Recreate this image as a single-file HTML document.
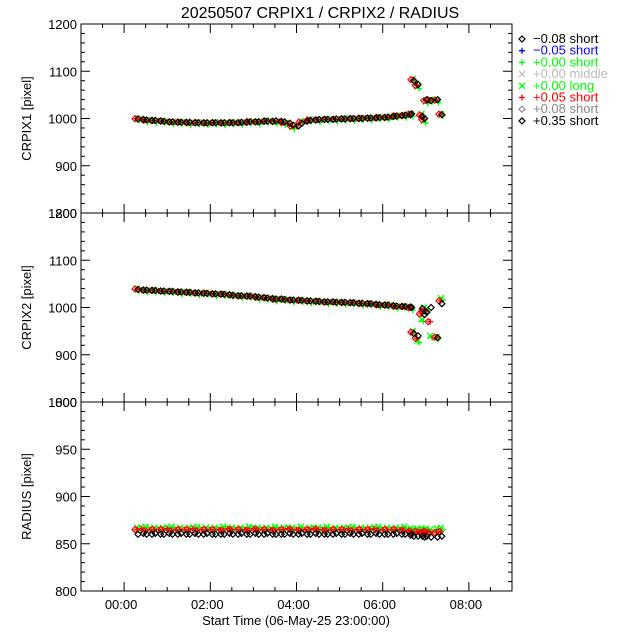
<!DOCTYPE html>
<html><head><meta charset="utf-8"><style>
body{margin:0;background:#fff}
svg{display:block;font-family:"Liberation Sans",sans-serif}
</style></head><body>
<svg id="c" width="640" height="640"></svg>
<script>
const times=[0.3,0.5,0.7,0.9,1.1,1.3,1.5,1.7,1.9,2.1,2.3,2.5,2.7,2.9,3.1,3.3,3.5,3.7,3.9,4.1,4.3,4.5,4.7,4.9,5.1,5.3,5.5,5.7,5.9,6.1,6.3,6.5,6.65,6.7,6.8,6.9,6.95,7.0,7.1,7.25,7.35];
const crpix1=[999,997,996,994,993,992,992,991,991,991,991,991,992,993,993,994,995,993,986,990,996,998,998,999,999,1000,1000,1001,1002,1003,1005,1007,1010,1080,1072,1004,1000,1040,1038,1040,1008];
const crpix1g=[1000,996,995,995,992,993,990,992,990,992,990,992,991,994,992,996,993,990,982,994,998,996,999,998,1000,999,1001,1000,1003,1002,1006,1006,1009,1084,1068,1010,995,1036,1040,1038,1010];
const crpix2=[1038,1037,1036,1035,1034,1033,1032,1031,1030,1029,1028,1026,1025,1024,1022,1020,1018,1017,1016,1015,1014,1013,1012,1011,1011,1010,1009,1008,1006,1005,1003,1002,1000,945,940,998,985,990,1000,936,1008];
const crpix2g=[1040,1036,1037,1034,1035,1032,1033,1030,1031,1028,1029,1027,1024,1025,1021,1021,1017,1018,1015,1016,1013,1014,1011,1012,1010,1011,1008,1009,1005,1006,1002,1003,999,950,930,975,1000,995,940,938,1020];
const radius=[860,860,861,860,860,861,860,860,861,860,860,860,861,860,860,861,860,860,860,861,860,860,860,861,860,860,861,860,860,860,861,860,860,858,858,858,857,858,857,857,858];
const radiusR=[865,864,865,865,864,865,865,864,865,865,864,865,865,864,865,865,864,865,865,864,865,865,864,865,865,864,865,865,864,865,865,864,863,862,863,862,862,863,862,862,863];
const radiusG=[867,868,867,867,868,867,867,868,867,867,868,867,867,868,867,867,868,867,867,868,867,867,868,867,867,868,867,867,868,867,867,868,866,865,866,866,865,866,865,866,867];
const times2=[0.4,0.6,0.8,1.0,1.2,1.4,1.6,1.8,2.0,2.2,2.4,2.6,2.8,3.0,3.2,3.4,3.6,3.8,4.0,4.2,4.4,4.6,4.8,5.0,5.2,5.4,5.6,5.8,6.0,6.2,6.4,6.6];
const crpix1b=[998,996,995,993,992,992,991,991,991,991,991,991,992,993,994,994,994,990,984,994,997,998,998,999,1000,1000,1001,1001,1002,1004,1006,1008];
const crpix2b=[1037,1036,1035,1034,1033,1032,1031,1030,1029,1028,1027,1025,1024,1023,1021,1019,1018,1016,1015,1014,1013,1012,1012,1011,1010,1009,1008,1007,1005,1004,1002,1001];
const radiusb=[861,860,860,861,860,860,861,860,860,860,861,860,860,861,860,860,860,861,860,860,861,860,860,860,861,860,860,861,860,860,860,859];
const legendLabels=["\u22120.08 short","\u22120.05 short","+0.00 short","+0.00 middle","+0.00 long","+0.05 short","+0.08 short","+0.35 short"];
const legendColors=["#000","#00f","#0f0","#bbb","#0f0","#f00","#888","#000"];
const legendSyms=["d","+","+","x","x","+","d","d"];
const xTicks=["00:00","02:00","04:00","06:00","08:00"];
const NS="http://www.w3.org/2000/svg",svg=document.getElementById('c');
function el(t,a,p){const e=document.createElementNS(NS,t);for(const k in a)e.setAttribute(k,a[k]);(p||svg).appendChild(e);return e;}
const X0=81,X1=512;const xs=t=>X0+(t+1)/10*(X1-X0);
const panels=[{top:24,bot:213,min:800,max:1200,maj:100,mn:20,lab:"CRPIX1 [pixel]",name:"crpix1"},
{top:213,bot:402,min:800,max:1200,maj:100,mn:20,lab:"CRPIX2 [pixel]",name:"crpix2"},
{top:402,bot:591,min:800,max:1000,maj:50,mn:10,lab:"RADIUS [pixel]",name:"radius"}];
const t=el('text',{x:320,y:18,'text-anchor':'middle','font-size':16});t.textContent="20250507 CRPIX1 / CRPIX2 / RADIUS";

function mark(sym,x,y,c,g){
 if(sym==='d')el('path',{d:`M${x-3} ${y}L${x} ${y-3}L${x+3} ${y}L${x} ${y+3}Z`,fill:'none',stroke:c,'stroke-width':1.2},g);
 else if(sym==='+')el('path',{d:`M${x-3} ${y}H${x+3}M${x} ${y-3}V${y+3}`,stroke:c,'stroke-width':1.3},g);
 else el('path',{d:`M${x-3} ${y-3}L${x+3} ${y+3}M${x-3} ${y+3}L${x+3} ${y-3}`,stroke:c,'stroke-width':1.3},g);
}
panels.forEach((p,pi)=>{
 const ys=v=>p.bot-(v-p.min)/(p.max-p.min)*(p.bot-p.top);
 const g=el('g',{});
 el('rect',{x:X0,y:p.top,width:X1-X0,height:p.bot-p.top,fill:'none',stroke:'#000'},g);
 for(let v=p.min;v<=p.max;v+=p.mn){const y=ys(v);const L=(v-p.min)%p.maj===0?9:4;
  el('line',{x1:X0,x2:X0+L,y1:y,y2:y,stroke:'#000'},g);el('line',{x1:X1,x2:X1-L,y1:y,y2:y,stroke:'#000'},g);
  if(L===9){const tx=el('text',{x:X0-4,y:y+5,'text-anchor':'end','font-size':13},g);tx.textContent=v;}}
 for(let h=-1;h<=9;h+=0.5){const x=xs(h);const L=(Math.abs(h%2)===0)?9:4;
  el('line',{x1:x,x2:x,y1:p.bot,y2:p.bot-L,stroke:'#000'},g);el('line',{x1:x,x2:x,y1:p.top,y2:p.top+L,stroke:'#000'},g);}
 const yl=el('text',{x:0,y:0,'text-anchor':'middle','font-size':13,transform:`translate(31,${(p.top+p.bot)/2}) rotate(-90)`},g);yl.textContent=p.lab;
 
 let a,b,c,d;
 if(pi===0){a=crpix1;b=crpix1g;c=crpix1.map((v,i)=>(v+crpix1g[i])/2);d=crpix1b;}
 else if(pi===1){a=crpix2;b=crpix2g;c=crpix2.map((v,i)=>(v+crpix2g[i])/2);d=crpix2b;}
 else{a=radius;b=radiusG;c=radiusR;d=radiusb;}
 times.forEach((tm,i)=>{const x=xs(tm);
  mark('x',x,ys(b[i]),'#0f0',g);mark('+',x+2,ys(b[i])+2,'#0f0',g);});
 times2.forEach((tm,i)=>{const x=xs(tm);const off=pi===2?6:0;
  mark('x',x,ys(d[i]+off),'#0f0',g);});
 times.forEach((tm,i)=>{const x=xs(tm);
  mark('+',x,ys(c[i]),'#f00',g);mark('d',x-2,ys(c[i]),'#f00',g);});
 times2.forEach((tm,i)=>{const x=xs(tm);const off=pi===2?5:0;
  mark('+',x,ys(d[i]+off),'#f00',g);mark('d',x+2,ys(d[i]),'#000',g);});
 times.forEach((tm,i)=>{const x=xs(tm);mark('d',x+1,ys(a[i]),'#000',g);});
});
xTicks.forEach((s,i)=>{const x=xs(i*2);const tx=el('text',{x:x-3,y:609,'text-anchor':'middle','font-size':13});tx.textContent=s;
 });
const xt=el('text',{x:296,y:625,'text-anchor':'middle','font-size':13});xt.textContent="Start Time (06-May-25 23:00:00)";

legendLabels.forEach((s,i)=>{const y=39+i*11.7;const g=el('g',{});
 
 mark(legendSyms[i],522,y,legendColors[i],g);
 const tx=el('text',{x:533,y:y+4,'font-size':13,fill:legendColors[i]},g);tx.textContent=s;});
</script>
</body></html>
